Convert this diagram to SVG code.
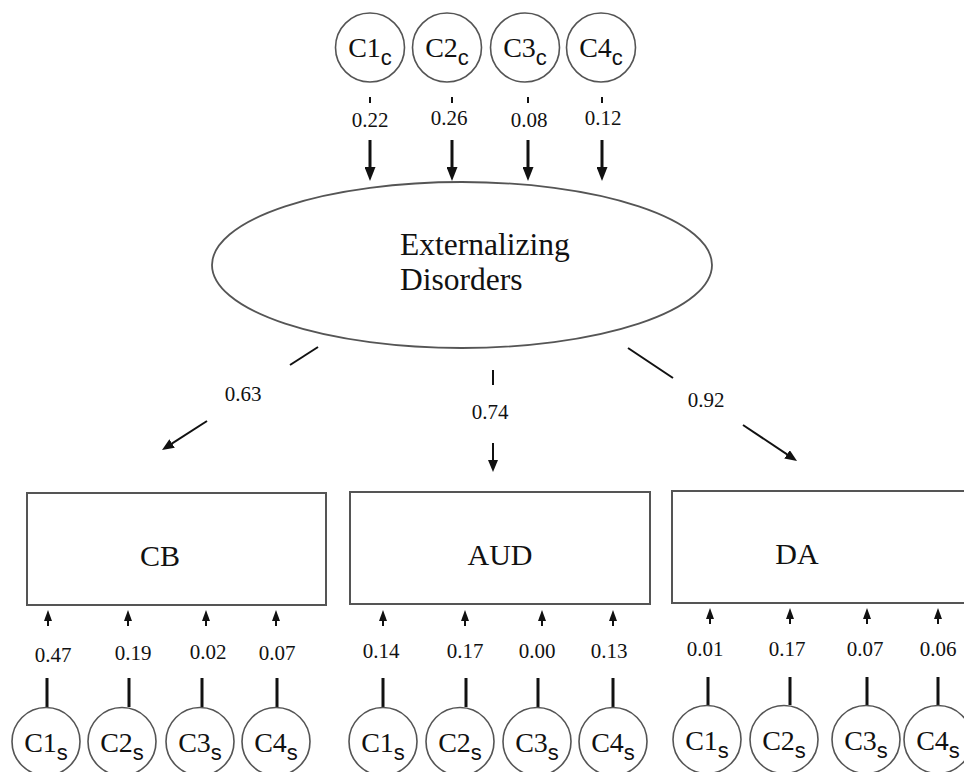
<svg xmlns="http://www.w3.org/2000/svg" width="964" height="772" viewBox="0 0 964 772">
<style>
.node{fill:#fff;stroke:#555;stroke-width:1.6}
.box{fill:#fff;stroke:#555;stroke-width:2}
text{font-family:'Liberation Serif','Times New Roman',serif;fill:#111}
.big{font-size:28px}
tspan.sub{font-family:'Liberation Sans',Arial,sans-serif;font-size:22px}
.num{font-size:21px;text-anchor:middle}
.title{font-size:30px}
.ext{font-size:31.5px}
.thick{stroke:#111;stroke-width:3;fill:none}
.thin{stroke:#111;stroke-width:2;fill:none}
</style>
<defs>
<marker id="headL" markerUnits="userSpaceOnUse" markerWidth="14" markerHeight="11" refX="6" refY="5.5" orient="auto"><path d="M0,0 L14,5.5 L0,11 z" fill="#111"/></marker>
<marker id="headM" markerUnits="userSpaceOnUse" markerWidth="12" markerHeight="10" refX="5" refY="5" orient="auto"><path d="M0,0 L12,5 L0,10 z" fill="#111"/></marker>
<marker id="headS" markerUnits="userSpaceOnUse" markerWidth="11" markerHeight="8" refX="4" refY="4" orient="auto"><path d="M0,0 L11,4 L0,8 z" fill="#111"/></marker>
</defs>

<g id="connectors">
<line class="thin" x1="370" y1="97" x2="370" y2="103"/>
<line class="thin" x1="452" y1="97" x2="452" y2="103"/>
<line class="thin" x1="528" y1="97" x2="528" y2="103"/>
<line class="thin" x1="602" y1="97" x2="602" y2="103"/>
<line class="thick" x1="370" y1="140" x2="370" y2="173" marker-end="url(#headL)"/>
<line class="thick" x1="452" y1="140" x2="452" y2="173" marker-end="url(#headL)"/>
<line class="thick" x1="528" y1="140" x2="528" y2="173" marker-end="url(#headL)"/>
<line class="thick" x1="602" y1="140" x2="602" y2="173" marker-end="url(#headL)"/>
<line class="thin" x1="318" y1="347" x2="290" y2="365"/>
<line class="thin" x1="207" y1="421" x2="167.9" y2="446.2" marker-end="url(#headM)"/>
<line class="thin" x1="493" y1="370" x2="493" y2="385"/>
<line class="thin" x1="493" y1="443" x2="493" y2="465" marker-end="url(#headM)"/>
<line class="thin" x1="628" y1="348" x2="673" y2="378"/>
<line class="thin" x1="743" y1="425" x2="791.2" y2="457.1" marker-end="url(#headM)"/>
<g id="cb-links">
<line class="thin" x1="48" y1="626" x2="48" y2="617" marker-end="url(#headS)"/>
<line class="thin" x1="128" y1="626" x2="128" y2="617" marker-end="url(#headS)"/>
<line class="thin" x1="206" y1="626" x2="206" y2="617" marker-end="url(#headS)"/>
<line class="thin" x1="276" y1="626" x2="276" y2="617" marker-end="url(#headS)"/>
<line class="thick" x1="47" y1="678" x2="47" y2="707"/>
<line class="thick" x1="129" y1="678" x2="129" y2="707"/>
<line class="thick" x1="202" y1="678" x2="202" y2="707"/>
<line class="thick" x1="277" y1="678" x2="277" y2="707"/>
</g>
<g id="aud-links">
<line class="thin" x1="383" y1="626" x2="383" y2="617" marker-end="url(#headS)"/>
<line class="thin" x1="465" y1="626" x2="465" y2="617" marker-end="url(#headS)"/>
<line class="thin" x1="542" y1="626" x2="542" y2="617" marker-end="url(#headS)"/>
<line class="thin" x1="613" y1="626" x2="613" y2="617" marker-end="url(#headS)"/>
<line class="thick" x1="383" y1="678" x2="383" y2="707"/>
<line class="thick" x1="466" y1="678" x2="466" y2="707"/>
<line class="thick" x1="538" y1="678" x2="538" y2="707"/>
<line class="thick" x1="613" y1="678" x2="613" y2="707"/>
</g>
<g id="da-links">
<line class="thin" x1="710" y1="624" x2="710" y2="615" marker-end="url(#headS)"/>
<line class="thin" x1="790" y1="624" x2="790" y2="615" marker-end="url(#headS)"/>
<line class="thin" x1="867" y1="624" x2="867" y2="615" marker-end="url(#headS)"/>
<line class="thin" x1="938" y1="624" x2="938" y2="615" marker-end="url(#headS)"/>
<line class="thick" x1="708" y1="677" x2="708" y2="705"/>
<line class="thick" x1="790" y1="677" x2="790" y2="705"/>
<line class="thick" x1="867" y1="677" x2="867" y2="705"/>
<line class="thick" x1="938" y1="677" x2="938" y2="705"/>
</g>
<text class="num" x="370" y="127">0.22</text>
<text class="num" x="449" y="125">0.26</text>
<text class="num" x="529" y="127">0.08</text>
<text class="num" x="603" y="125">0.12</text>
<text class="num" x="243" y="401">0.63</text>
<text class="num" x="490" y="419">0.74</text>
<text class="num" x="706" y="407">0.92</text>
<text class="num" x="53" y="662">0.47</text>
<text class="num" x="133" y="660">0.19</text>
<text class="num" x="208" y="659">0.02</text>
<text class="num" x="277" y="660">0.07</text>
<text class="num" x="381" y="658">0.14</text>
<text class="num" x="465" y="658">0.17</text>
<text class="num" x="537" y="658">0.00</text>
<text class="num" x="609" y="658">0.13</text>
<text class="num" x="705" y="656">0.01</text>
<text class="num" x="787" y="656">0.17</text>
<text class="num" x="865" y="656">0.07</text>
<text class="num" x="938" y="656">0.06</text>
</g>

<g id="C1c"><circle class="node" cx="370" cy="47.5" r="34.5"/><text class="big" x="370" y="57" text-anchor="middle">C1<tspan class="sub" dy="8">c</tspan></text></g>
<g id="C2c"><circle class="node" cx="447" cy="47.5" r="34.5"/><text class="big" x="447" y="57" text-anchor="middle">C2<tspan class="sub" dy="8">c</tspan></text></g>
<g id="C3c"><circle class="node" cx="525" cy="47.5" r="34.5"/><text class="big" x="525" y="57" text-anchor="middle">C3<tspan class="sub" dy="8">c</tspan></text></g>
<g id="C4c"><circle class="node" cx="601" cy="47.5" r="34.5"/><text class="big" x="601" y="57" text-anchor="middle">C4<tspan class="sub" dy="8">c</tspan></text></g>

<g id="externalizing">
<ellipse class="node" cx="462" cy="265" rx="250" ry="83" style="stroke-width:1.8"/>
<text class="ext" x="400" y="255">Externalizing</text>
<text class="ext" x="400" y="290">Disorders</text>
</g>

<g id="CB"><rect class="box" x="27" y="493" width="299" height="112"/><text class="title" x="160" y="566" text-anchor="middle">CB</text></g>
<g id="AUD"><rect class="box" x="350" y="492" width="300" height="112"/><text class="title" x="500" y="565" text-anchor="middle">AUD</text></g>
<g id="DA"><rect class="box" x="672" y="491" width="300" height="112"/><text class="title" x="797" y="564" text-anchor="middle">DA</text></g>

<g id="CB-C1s"><circle class="node" cx="46" cy="741.5" r="34"/><text class="big" x="46" y="752" text-anchor="middle">C1<tspan class="sub" dy="8">s</tspan></text></g>
<g id="CB-C2s"><circle class="node" cx="122" cy="741.5" r="34"/><text class="big" x="122" y="752" text-anchor="middle">C2<tspan class="sub" dy="8">s</tspan></text></g>
<g id="CB-C3s"><circle class="node" cx="200" cy="741.5" r="34"/><text class="big" x="200" y="752" text-anchor="middle">C3<tspan class="sub" dy="8">s</tspan></text></g>
<g id="CB-C4s"><circle class="node" cx="276" cy="741.5" r="34"/><text class="big" x="276" y="752" text-anchor="middle">C4<tspan class="sub" dy="8">s</tspan></text></g>

<g id="AUD-C1s"><circle class="node" cx="383" cy="741.5" r="34"/><text class="big" x="383" y="752" text-anchor="middle">C1<tspan class="sub" dy="8">s</tspan></text></g>
<g id="AUD-C2s"><circle class="node" cx="460" cy="741.5" r="34"/><text class="big" x="460" y="752" text-anchor="middle">C2<tspan class="sub" dy="8">s</tspan></text></g>
<g id="AUD-C3s"><circle class="node" cx="537" cy="741.5" r="34"/><text class="big" x="537" y="752" text-anchor="middle">C3<tspan class="sub" dy="8">s</tspan></text></g>
<g id="AUD-C4s"><circle class="node" cx="613" cy="741.5" r="34"/><text class="big" x="613" y="752" text-anchor="middle">C4<tspan class="sub" dy="8">s</tspan></text></g>

<g id="DA-C1s"><circle class="node" cx="707" cy="739.5" r="34"/><text class="big" x="707" y="750" text-anchor="middle">C1<tspan class="sub" dy="8">s</tspan></text></g>
<g id="DA-C2s"><circle class="node" cx="784" cy="739.5" r="34"/><text class="big" x="784" y="750" text-anchor="middle">C2<tspan class="sub" dy="8">s</tspan></text></g>
<g id="DA-C3s"><circle class="node" cx="866" cy="739.5" r="34"/><text class="big" x="866" y="750" text-anchor="middle">C3<tspan class="sub" dy="8">s</tspan></text></g>
<g id="DA-C4s"><circle class="node" cx="938" cy="739.5" r="34"/><text class="big" x="938" y="750" text-anchor="middle">C4<tspan class="sub" dy="8">s</tspan></text></g>
</svg>
